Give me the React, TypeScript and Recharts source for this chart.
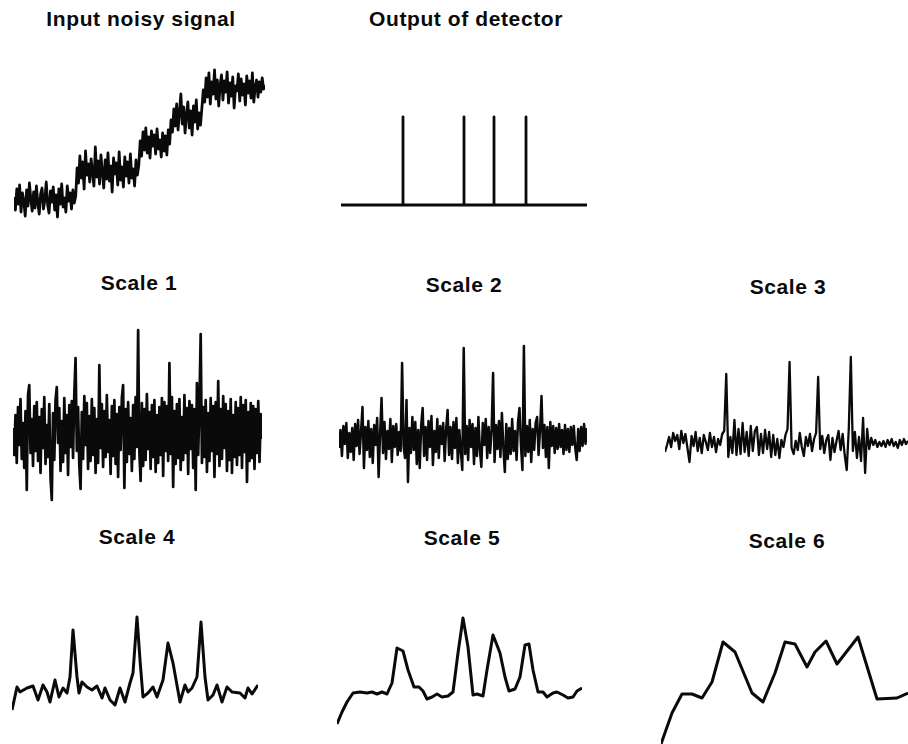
import { LineChart, Line, XAxis, YAxis } from "recharts";

// noisy staircase input, one value per sample
const INPUT_NOISY = [
  33, 20, 41, 26, 45, 18, 37, 29, 14, 40, 24, 47, 31, 19, 38, 22, 44, 27, 16, 36,
  42, 21, 30, 48, 25, 17, 39, 28, 43, 20, 35, 13, 41, 26, 46, 23, 32, 18, 44, 29,
  37, 21, 40, 27, 34,
  62, 47, 74, 52, 68, 41, 79, 55, 66, 48, 71, 57, 44, 83, 53, 69, 46, 75, 58, 42,
  70, 51, 77, 49, 64, 38, 72, 56, 67, 45, 78, 50, 63, 43, 73, 54, 68, 47, 76, 52,
  61, 44, 70, 55, 65,
  89, 74, 98, 80, 102, 77, 93, 72, 99, 84, 95, 76, 101, 81, 90, 73, 97, 79, 94, 75,
  100, 86,
  110, 98, 121, 104, 126, 100, 118, 136, 106, 123, 97, 115, 128, 102, 119, 95, 124, 108, 130, 101,
  117, 105, 122,
  140, 128, 152, 133, 157, 126, 148, 136, 160, 131, 150, 124, 145, 155, 130, 149, 138, 158, 127, 147,
  134, 153, 122, 144, 139, 156, 129, 151, 135, 146, 125, 154, 137, 149, 132, 157, 128, 143, 150, 133,
  148, 138, 152, 141, 145,
];

// detector output: flat line with unit impulses at the step positions
const DETECTOR_LENGTH = 246;
const DETECTOR_SPIKES = [62, 123, 153, 185];

const SCALE1 = [
  5, -22, 18, -30, 26, -12, 34, -26, 10, -35,
  22, -57, 38, 48, -20, 14, -33, 27, -18, 31,
  -28, 16, -40, 24, -15, 36, -31, 8, -24, 29,
  -45, -67, 20, -27, 33, 46, -10, 25, -38, 12,
  -29, 35, -20, 18, -42, 28, -14, 32, -25, 40,
  75, -18, 26, -33, -56, 21, -26, 37, -12, 30,
  -36, 17, -28, 34, -22, 25, -40, 14, -30, 68,
  -15, 29, -34, 22, -24, 38, -19, 13, -41, 27,
  -23, 33, -31, 19, -44, 26, -17, 35, 48, -55,
  24, -29, 31, -21, 15, -38, 28, -26, 36, -14,
  103, -20, -48, 30, -33, 24, -27, 39, -16, 21,
  -36, 28, -24, 33, -39, 18, -30, 26, -22, 35,
  -43, 31, -18, 27, -28, 70, -21, 36, -54, 22,
  -31, 29, -25, 34, -37, 16, -27, 38, -20, 25,
  -41, 32, -16, 28, -35, 24, -57, 50, -22, 30,
  99, -30, 26, -24, 33, -39, 20, -28, 35, -18,
  27, -44, 31, -21, 52, -33, 24, -26, 37, -15,
  29, -38, 22, -27, 34, -40, 18, -24, 31, -32,
  25, -22, 36, -35, 28, -19, 33, -49, 21, -28,
  30, -25, 27, -36, 24, -20, 32, -29, 19, -6,
];

const SCALE2 = [
  -10, 8, -18, 12, -6, 15, -20, 5, -14, 10,
  -22, 14, -8, 18, -16, 6, 31, -30, 11, -12,
  17, -19, 9, -25, 13, -7, 20, -39, 4, 40,
  -15, 16, -21, 7, -11, 19, -24, 12, -9, 14,
  -17, 6, -13, 75, -8, -20, 38, -44, 10, -15,
  21, -12, 16, -26, 8, -30, 13, 30, -18, 11,
  -22, 17, -9, 22, -27, 7, -14, 19, -20, 12,
  -6, 15, -23, 9, 28, -17, 11, -21, 16, -10,
  20, -25, 8, -13, -32, 90, -16, 12, -22, 18,
  -9, 14, -26, 10, -18, 21, -12, -29, 15, -7,
  19, -20, 11, -15, 8, 65, -24, 13, -11, 17,
  -19, 25, -9, -34, 14, -21, 10, -16, 19, -13,
  7, -22, 16, 30, -8, -32, 92, -18, 12, -14,
  18, -24, 9, -12, 15, 21, -17, 8, 42, -10,
  13, -19, 11, -30, 16, -8, 12, -15, 10, -11,
  14, -9, 8, -16, 13, -12, 9, -14, 11, -7,
  12, -10, -22, 9, -13, 11, -8, 14, -6, 10,
];

const SCALE3 = [
  -9, -2, 6, -4, 10, 2, 8, -6, 12, 0,
  9, -5, -19, 7, -3, 11, -8, 5, -10, 8,
  1, -7, 10, -4, 6, -9, 4, -2, 9, 12,
  69, -14, 6, -10, 23, -12, 14, -11, 20, -9,
  11, -13, 17, -8, 12, 16, -12, 9, -10, 13,
  -6, 11, -14, 8, -12, 4, -15, 3, -4, 8,
  14, 81, -5, -11, 2, -7, 10, -4, -13, 6,
  -3, 9, -8, 4, 10, 66, -6, 7, -10, 3,
  8, -17, 5, -9, 2, 12, -7, 9, -12, -27,
  14, 86, -8, 11, -15, 6, -18, 25, -30, 14,
  -6, 5, -2, 3, -4, 1, -3, 2, -4, 3,
  -2, 4, -3, 1, -5, 3, -2, 4, -1, 2,
];

// coarser scales: sample position and value
const SCALE4_T = [
  0, 5, 8, 15, 21, 26, 31, 35, 38, 43, 47, 51, 55, 58, 61, 65, 67, 70, 75, 80,
  85, 90, 93, 98, 103, 108, 113, 118, 121, 125, 128, 131, 136, 141, 145, 151, 156, 161, 168, 173,
  176, 180, 185, 189, 193, 196, 201, 205, 210, 215, 220, 228, 233, 236, 240, 246,
];
const SCALE4_V = [
  10, 33, 28, 32, 34, 20, 35, 28, 18, 40, 23, 32, 27, 43, 90, 43, 27, 38, 33, 30,
  34, 22, 32, 20, 15, 32, 18, 37, 47, 103, 60, 23, 27, 33, 23, 40, 77, 57, 18, 35,
  28, 32, 43, 98, 43, 20, 25, 35, 18, 33, 28, 27, 22, 32, 26, 35,
];

const SCALE5_T = [
  0, 5, 10, 16, 23, 30, 35, 40, 45, 50, 55, 60, 66, 71, 77, 82, 86, 90, 95, 100,
  105, 111, 116, 121, 126, 131, 136, 140, 146, 150, 156, 163, 168, 172, 178, 183, 188, 192, 196, 201,
  206, 210, 216, 220, 226, 231, 236, 240, 245,
];
const SCALE5_V = [
  6, 18, 28, 37, 38, 37, 38, 36, 38, 36, 47, 82, 79, 60, 43, 43, 39, 31, 33, 36,
  33, 34, 38, 77, 112, 83, 35, 36, 34, 60, 95, 77, 53, 39, 41, 53, 85, 86, 60, 38,
  38, 33, 37, 38, 35, 32, 33, 39, 42,
];

const SCALE6_T = [0, 11, 21, 31, 41, 51, 62, 74, 91, 102, 114, 124, 134, 146, 154, 165, 176, 197, 216, 236, 247];
const SCALE6_V = [0, 31, 50, 50, 46, 62, 102, 92, 51, 42, 71, 102, 100, 77, 92, 103, 80, 107, 45, 46, 51];

type Pt = { t: number; v: number };

const indexed = (vals: number[]): Pt[] => vals.map((v, t) => ({ t, v }));
const paired = (ts: number[], vs: number[]): Pt[] => ts.map((t, i) => ({ t, v: vs[i] }));

function detectorTrace(): Pt[] {
  const pts: Pt[] = [{ t: 0, v: 0 }];
  DETECTOR_SPIKES.forEach((s) => {
    pts.push({ t: s, v: 0 }, { t: s, v: 1 }, { t: s, v: 0 });
  });
  pts.push({ t: DETECTOR_LENGTH, v: 0 });
  return pts;
}

const INK = "#0a0a0a";
const FONT = "'Liberation Sans', Arial, Helvetica, sans-serif";

interface PanelProps {
  data: Pt[];
  left: number;
  top: number;
  width: number;
  height: number;
  xDomain: [number, number];
  yDomain: [number, number];
  strokeWidth: number;
  pad?: number;
}

function Trace({ data, left, top, width, height, xDomain, yDomain, strokeWidth, pad = 0 }: PanelProps) {
  return (
    <div style={{ position: "absolute", left, top }}>
      <LineChart width={width} height={height} data={data} margin={{ top: pad, right: 0, bottom: pad, left: 0 }}>
        <XAxis dataKey="t" type="number" domain={xDomain} hide />
        <YAxis type="number" domain={yDomain} hide />
        <Line
          dataKey="v"
          type="linear"
          stroke={INK}
          strokeWidth={strokeWidth}
          strokeLinejoin="round"
          dot={false}
          activeDot={false}
          isAnimationActive={false}
        />
      </LineChart>
    </div>
  );
}

const TITLES = [
  { text: "Input noisy signal", x: 141, y: 26 },
  { text: "Output of detector", x: 466, y: 26 },
  { text: "Scale 1", x: 139, y: 290 },
  { text: "Scale 2", x: 464, y: 292 },
  { text: "Scale 3", x: 788, y: 294 },
  { text: "Scale 4", x: 137, y: 544 },
  { text: "Scale 5", x: 462, y: 545 },
  { text: "Scale 6", x: 787, y: 548 },
];

export default function App() {
  const lastIdx = (a: number[]) => a.length - 1;
  return (
    <div
      style={{
        position: "absolute",
        left: 0,
        top: 0,
        width: 908,
        height: 744,
        background: "#fff",
        overflow: "hidden",
      }}
    >
      <Trace data={indexed(INPUT_NOISY)} left={14} top={60} width={251} height={170}
        xDomain={[0, lastIdx(INPUT_NOISY)]} yDomain={[0, 170]} strokeWidth={2.8} />
      <Trace data={detectorTrace()} left={341} top={107} width={246} height={108} pad={10}
        xDomain={[0, DETECTOR_LENGTH]} yDomain={[0, 1]} strokeWidth={2.8} />

      <Trace data={indexed(SCALE1)} left={13} top={320} width={249} height={190}
        xDomain={[0, lastIdx(SCALE1)]} yDomain={[-77, 113]} strokeWidth={2.7} />
      <Trace data={indexed(SCALE2)} left={339} top={330} width={248} height={170}
        xDomain={[0, lastIdx(SCALE2)]} yDomain={[-62, 108]} strokeWidth={2.5} />
      <Trace data={indexed(SCALE3)} left={665} top={340} width={243} height={150}
        xDomain={[0, lastIdx(SCALE3)]} yDomain={[-47, 103]} strokeWidth={2.3} />

      <Trace data={paired(SCALE4_T, SCALE4_V)} left={12} top={600} width={246} height={120}
        xDomain={[0, 246]} yDomain={[0, 120]} strokeWidth={3} />
      <Trace data={paired(SCALE5_T, SCALE5_V)} left={337} top={600} width={245} height={130}
        xDomain={[0, 245]} yDomain={[0, 130]} strokeWidth={3} />
      <Trace data={paired(SCALE6_T, SCALE6_V)} left={661} top={620} width={247} height={124}
        xDomain={[0, 247]} yDomain={[0, 124]} strokeWidth={3} />

      <svg width={908} height={744} style={{ position: "absolute", left: 0, top: 0, pointerEvents: "none" }}>
        {TITLES.map((t) => (
          <text key={t.text} x={t.x} y={t.y} textAnchor="middle" fill={INK}
            style={{ fontFamily: FONT, fontWeight: 700, fontSize: 21, letterSpacing: 0.6 }}>
            {t.text}
          </text>
        ))}
      </svg>
    </div>
  );
}
